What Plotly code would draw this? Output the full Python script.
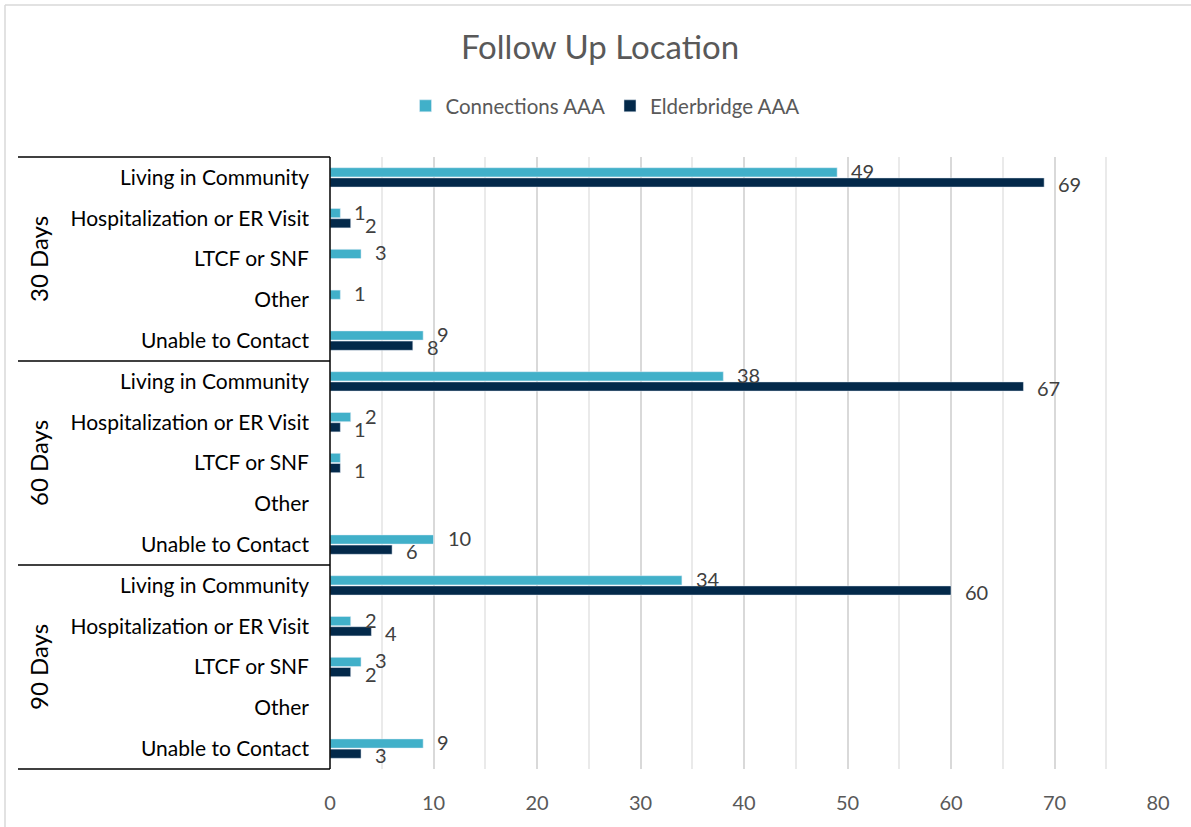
import plotly.graph_objects as go

groups = ["30 Days", "60 Days", "90 Days"]
locations = ["Living in Community", "Hospitalization or ER Visit", "LTCF or SNF", "Other", "Unable to Contact"]
connections = [49, 1, 3, 1, 9,
               38, 2, 1, None, 10,
               34, 2, 3, None, 9]
elderbridge = [69, 2, None, None, 8,
               67, 1, 1, None, 6,
               60, 4, 2, None, 3]
x_ticks = [0, 10, 20, 30, 40, 50, 60, 70, 80]

W, H = 1191, 827
L, R, T, B = 330, 1158, 157, 769
pw, ph = R - L, B - T

def px(x):
    return (x - L) / pw

def py(y):
    return (B - y) / ph

n = len(groups) * len(locations)
ypos = list(range(n))
ylabels = [loc for g in groups for loc in locations]

teal = "#41B0C9"
navy = "#03294A"
font = "Lato"

fig = go.Figure()
fig.add_trace(go.Bar(y=ypos, x=connections, orientation="h", name="Connections AAA",
                     marker=dict(color=teal)))
fig.add_trace(go.Bar(y=ypos, x=elderbridge, orientation="h", name="Elderbridge AAA",
                     marker=dict(color=navy)))

annotations = []
for si, (vals, other, ysh) in enumerate(((connections, elderbridge, 0.16), (elderbridge, connections, -0.16))):
    for i, v in enumerate(vals):
        if v is None:
            continue
        # identical labels on the same row would overlap: keep only one (as in the source)
        if si == 0 and other[i] == v:
            continue
        annotations.append(dict(x=v, y=i - ysh, xref="x", yref="y", text=str(v),
                                showarrow=False, xanchor="left", yanchor="middle",
                                xshift=12, font=dict(family=font, size=20, color="#404040")))

for gi, g in enumerate(groups):
    yc = T + ph * (gi + 0.5) / len(groups)
    annotations.append(dict(x=px(38), y=py(yc), xref="paper", yref="paper", text=g,
                            textangle=-90, showarrow=False, xanchor="center", yanchor="middle",
                            font=dict(family=font, size=24, color="#000000")))

shapes = []
for k in range(len(groups) + 1):
    yy = T + ph * k / len(groups)
    shapes.append(dict(type="line", xref="paper", yref="paper", x0=px(18), x1=0,
                       y0=py(yy), y1=py(yy), line=dict(color="#000000", width=1.5)))
shapes.append(dict(type="line", xref="paper", yref="paper", x0=0, x1=0, y0=0, y1=1,
                   line=dict(color="#000000", width=1.5)))
# outer chart border (left and top)
shapes.append(dict(type="line", xref="paper", yref="paper", x0=px(5), x1=px(W + 10),
                   y0=py(5), y1=py(5), line=dict(color="#D9D9D9", width=1.5)))
shapes.append(dict(type="line", xref="paper", yref="paper", x0=px(5), x1=px(5),
                   y0=py(5), y1=py(H + 10), line=dict(color="#D9D9D9", width=1.5)))

fig.update_layout(
    width=W, height=H,
    margin=dict(l=L, r=W - R, t=T, b=H - B, pad=0),
    paper_bgcolor="white", plot_bgcolor="white",
    barmode="group", bargap=0.5, bargroupgap=0.1,
    title=dict(text="Follow Up Location", x=600 / W, xref="container", xanchor="center",
               y=1 - 47 / H, yref="container", yanchor="middle",
               font=dict(family=font, size=33, color="#595959")),
    legend=dict(orientation="h", x=px(605), y=py(106), xanchor="center", yanchor="middle",
                font=dict(family=font, size=20.5, color="#595959"), itemwidth=30,
                traceorder="normal"),
    xaxis=dict(range=[0, 80], tickvals=x_ticks, showgrid=True, gridcolor="#D9D9D9", gridwidth=1.5,
               minor=dict(dtick=5, showgrid=True, gridcolor="#EAEAEA", gridwidth=1.5),
               zeroline=False, showline=False, ticks="",
               tickfont=dict(family=font, size=20, color="#595959"), ticklabelstandoff=20),
    yaxis=dict(range=[n - 0.5, -0.5], tickvals=ypos, ticktext=ylabels, showgrid=False,
               zeroline=False, showline=False, ticks="",
               tickfont=dict(family=font, size=21, color="#000000"), ticklabelstandoff=20),
    annotations=annotations, shapes=shapes,
    showlegend=True,
)

fig.write_html("out.html")
